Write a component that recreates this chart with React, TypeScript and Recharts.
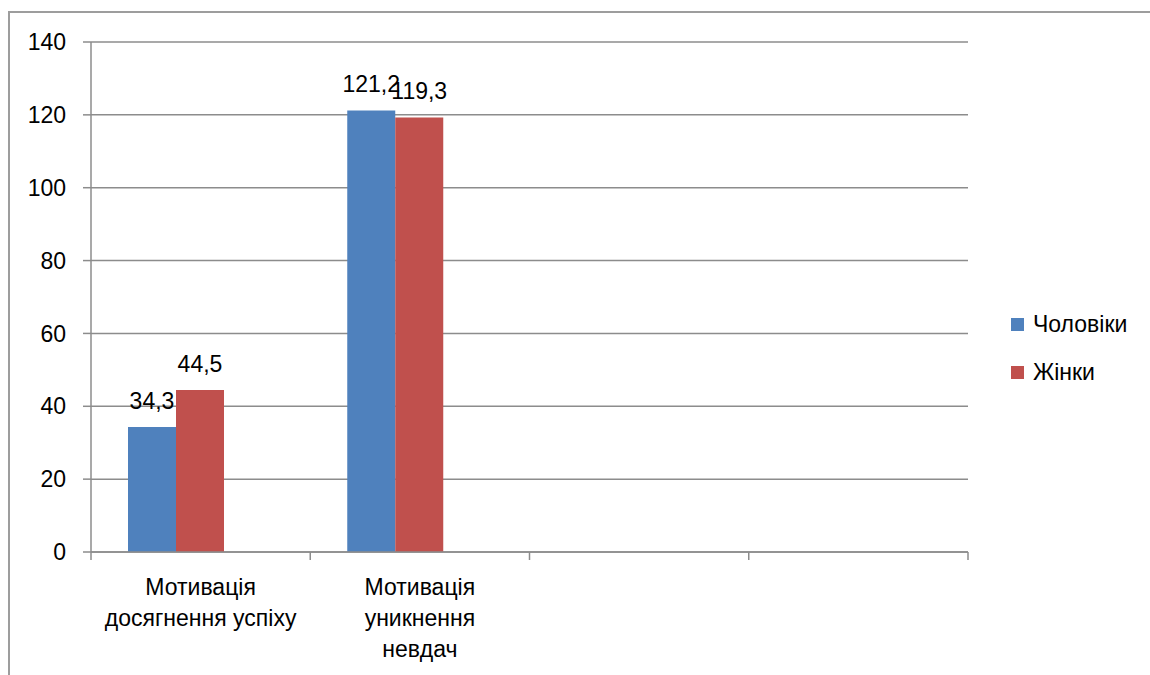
import React from 'react';
import { BarChart, Bar, XAxis, YAxis, CartesianGrid, Legend, LabelList } from 'recharts';

const categories = ['Мотивація\nдосягнення успіху', 'Мотивація\nуникнення\nневдач', '', ''];
const men = [34.3, 121.2, null, null];
const women = [44.5, 119.3, null, null];
// third series of the sheet has no values, it only keeps its slot in each group
const spare = [null, null, null, null];
const yTicks = [0, 20, 40, 60, 80, 100, 120, 140];

const seriesNames = { men: 'Чоловіки', women: 'Жінки' };
const COLORS = { men: '#4F81BD', women: '#C0504D' };

const data = categories.map((name, i) => ({
  name,
  men: men[i],
  women: women[i],
  spare: spare[i],
}));

const W = 1150;
const H = 675;
const PLOT = { left: 91, right: 968, top: 42, bottom: 552 };
const BAND = (PLOT.right - PLOT.left) / categories.length;
const FONT = '"Liberation Sans", Arial, sans-serif';
const AXIS_GRAY = '#8c8c8c';

const fmt = (v: any) => (v == null ? '' : String(v).replace('.', ','));

function CategoryTick(props: any) {
  const { x, y, payload, index } = props;
  const lines = String(payload.value ?? '').split('\n').filter(Boolean);
  return (
    <g>
      <line x1={x - BAND / 2} x2={x - BAND / 2} y1={y} y2={y + 8} stroke={AXIS_GRAY} strokeWidth={1.5} />
      {index === categories.length - 1 && (
        <line x1={x + BAND / 2} x2={x + BAND / 2} y1={y} y2={y + 8} stroke={AXIS_GRAY} strokeWidth={1.5} />
      )}
      <text textAnchor="middle" fontSize={23} fontFamily={FONT} fill="#000">
        {lines.map((l, i) => (
          <tspan key={i} x={x} y={y + 43 + i * 31}>
            {l}
          </tspan>
        ))}
      </text>
    </g>
  );
}

function LegendBox() {
  const items = [
    { key: 'men', label: seriesNames.men, color: COLORS.men },
    { key: 'women', label: seriesNames.women, color: COLORS.women },
  ];
  return (
    <div style={{ fontFamily: FONT, fontSize: 23, color: '#000' }}>
      {items.map((it) => (
        <div key={it.key} style={{ display: 'flex', alignItems: 'center', height: 48 }}>
          <span style={{ width: 13, height: 13, background: it.color, display: 'inline-block', marginRight: 9 }} />
          <span>{it.label}</span>
        </div>
      ))}
    </div>
  );
}

export default function App() {
  return (
    <div style={{ position: 'absolute', left: 0, top: 0, width: W, height: H, overflow: 'hidden', background: '#fff' }}>
      <div
        style={{
          position: 'absolute',
          left: 8,
          top: 11,
          width: 1300,
          height: 900,
          borderLeft: `2px solid ${AXIS_GRAY}`,
          borderTop: `2px solid ${AXIS_GRAY}`,
          opacity: 0.85,
        }}
      />
      <div style={{ position: 'absolute', left: 0, top: 0 }}>
        <BarChart
          width={W}
          height={H}
          data={data}
          margin={{ top: PLOT.top, right: W - PLOT.right, bottom: H - PLOT.bottom - 30, left: PLOT.left - 60 }}
          barCategoryGap={37}
          barGap={0}
        >
          <CartesianGrid vertical={false} stroke={AXIS_GRAY} strokeWidth={1.5} />
          <YAxis
            width={60}
            domain={[0, 140]}
            ticks={yTicks}
            interval={0}
            tickSize={8}
            tickMargin={17}
            axisLine={{ stroke: AXIS_GRAY, strokeWidth: 1.5 }}
            tickLine={{ stroke: AXIS_GRAY, strokeWidth: 1.5 }}
            tick={{ fill: '#000', fontSize: 23, fontFamily: FONT }}
          />
          <XAxis
            dataKey="name"
            height={30}
            interval={0}
            tickSize={0}
            tickMargin={0}
            axisLine={{ stroke: AXIS_GRAY, strokeWidth: 1.5 }}
            tickLine={false}
            tick={<CategoryTick />}
          />
          <Legend
            layout="vertical"
            align="center"
            verticalAlign="middle"
            wrapperStyle={{ left: 1011, top: 300, width: 140 }}
            content={() => <LegendBox />}
          />
          <Bar dataKey="men" name={seriesNames.men} fill={COLORS.men} isAnimationActive={false}>
            <LabelList dataKey="men" position="top" offset={18} formatter={fmt} fill="#000" fontSize={23} fontFamily={FONT} />
          </Bar>
          <Bar dataKey="women" name={seriesNames.women} fill={COLORS.women} isAnimationActive={false}>
            <LabelList dataKey="women" position="top" offset={18} formatter={fmt} fill="#000" fontSize={23} fontFamily={FONT} />
          </Bar>
          <Bar dataKey="spare" fill="#9BBB59" legendType="none" isAnimationActive={false} />
        </BarChart>
      </div>
    </div>
  );
}
